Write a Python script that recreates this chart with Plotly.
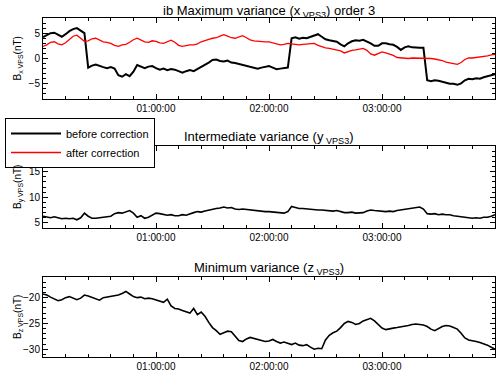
import pandas as pd
import plotly.graph_objects as go

# sample times in minutes after 00:00, every 2 minutes
MINUTES = list(range(0, 242, 2))

bx_before = [
    4.2, 4.6, 5.0, 5.1, 4.7, 4.3, 4.8, 5.4, 5.8, 6.0, 5.5, 5.0,
    -1.8, -1.4, -1.2, -1.5, -1.7, -1.9, -1.7, -2.0, -3.3, -3.6, -3.1, -3.5,
    -2.6, -1.3, -1.6, -1.9, -1.6, -1.5, -1.9, -2.2, -2.0, -2.3, -2.1, -2.2,
    -2.5, -2.8, -2.5, -2.3, -2.5, -2.1, -1.6, -1.3, -0.8, -0.3, -0.2, -0.5,
    -0.6, -0.4, -0.8, -0.9, -1.1, -1.2, -1.4, -1.7, -1.8, -2.0, -1.8, -1.7,
    -1.5, -1.8, -2.1, -2.0, -1.9, -1.8, 4.0, 4.2, 3.9, 4.1, 4.0, 4.3,
    4.6, 4.8, 4.3, 3.8, 3.6, 3.4, 3.3, 2.8, 2.4, 3.0, 3.4, 3.6,
    3.5, 3.7, 3.4, 3.0, 2.5, 2.5, 3.0, 3.0, 2.8, 2.7, 2.3, 1.7,
    2.2, 2.4, 2.2, 2.1, 2.1, 2.1, -4.3, -4.5, -4.3, -4.4, -4.6, -4.8,
    -5.0, -5.0, -5.2, -4.9, -4.3, -4.0, -4.1, -3.9, -4.0, -3.7, -3.5, -3.2,
    -3.1,
]
bx_after = [
    2.4, 2.7, 3.2, 3.3, 2.9, 2.7, 3.1, 3.8, 4.4, 4.6, 4.0, 3.4,
    3.5, 3.9, 4.0, 3.7, 3.3, 3.2, 3.0, 2.6, 2.4, 2.7, 2.8, 3.2,
    3.7, 4.0, 3.6, 3.3, 3.2, 3.5, 3.4, 3.1, 3.0, 3.3, 3.6, 3.2,
    2.6, 2.4, 2.6, 2.7, 2.7, 2.9, 3.3, 3.6, 3.8, 4.0, 4.1, 4.4,
    4.7, 4.4, 4.1, 4.0, 4.3, 4.5, 4.1, 3.7, 3.5, 3.4, 3.3, 3.3,
    3.3, 3.1, 2.9, 2.7, 2.8, 3.0, 2.9, 2.8, 2.7, 2.8, 2.9, 3.0,
    3.0, 2.6, 2.3, 2.1, 2.0, 1.8, 1.6, 1.5, 1.1, 1.4, 1.6, 1.7,
    1.9, 2.0, 1.6, 0.9, 0.65, 1.0, 1.3, 1.1, 0.9, 0.6, 0.2, 0.1,
    0.1, 0.0, 0.1, 0.1, 0.0, 0.1, 0.1, 0.0, -0.1, -0.2, -0.4, -0.7,
    -0.9, -1.0, -1.15, -0.8, -0.2, 0.1, 0.1, 0.2, 0.3, 0.3, 0.5, 0.7,
    0.8,
]
by_values = [
    6.3, 6.1, 6.0, 6.2, 6.0, 5.8, 5.9, 5.8, 5.9, 5.6, 6.0, 6.9,
    6.3, 5.9, 5.9, 6.0, 6.0, 6.1, 6.3, 6.8, 7.0, 6.9, 7.1, 7.4,
    6.9, 6.1, 6.4, 5.9, 6.1, 6.5, 6.9, 6.8, 6.6, 6.5, 6.6, 6.4,
    6.4, 6.6, 6.5, 6.8, 7.0, 7.2, 7.1, 7.3, 7.5, 7.6, 7.8, 7.9,
    8.1, 7.9, 8.0, 7.7, 7.6, 7.7, 7.6, 7.5, 7.4, 7.3, 7.2, 7.2,
    7.2, 7.1, 7.0, 6.9, 6.9, 7.2, 8.2, 8.0, 7.8, 7.8, 7.7, 7.7,
    7.6, 7.5, 7.5, 7.4, 7.4, 7.3, 7.4, 7.2, 7.0, 7.0, 7.1, 6.9,
    6.9, 7.0, 7.3, 7.5, 7.4, 7.3, 7.2, 7.2, 7.3, 7.2, 7.4, 7.5,
    7.6, 7.7, 7.8, 7.9, 8.1, 7.7, 6.8, 6.7, 6.8, 6.6, 6.7, 6.6,
    6.6, 6.4, 6.3, 6.2, 6.0, 5.9, 5.9, 6.0, 5.9, 6.1, 6.1, 6.3,
    6.6,
]
bz_values = [
    -19.3, -19.5, -19.9, -20.3, -20.6, -20.4, -20.0, -19.8, -20.1, -20.4, -20.1, -19.5,
    -19.7, -20.0, -20.3, -20.5, -20.0, -19.9, -19.8, -19.6, -19.5, -19.2, -18.8, -19.3,
    -19.8, -20.0, -19.9, -20.2, -20.1, -20.2, -20.4, -20.6, -20.9, -20.3, -21.6, -22.1,
    -22.2, -22.5, -22.7, -23.0, -22.1, -23.3, -22.8, -23.6, -24.8, -25.8, -26.4, -27.1,
    -26.8, -26.5, -26.6, -27.4, -28.3, -28.5, -28.0, -27.7, -27.9, -28.1, -28.3, -28.5,
    -28.4, -28.1, -28.5, -28.8, -28.6, -28.9, -29.1, -28.8, -29.2, -29.3, -29.1, -29.6,
    -30.0, -29.8, -29.9, -28.2, -27.3, -26.8, -26.5, -25.8, -25.0, -24.6, -24.8, -25.2,
    -25.0, -24.5, -24.2, -24.0, -24.5, -25.2, -25.9, -26.2, -26.0, -25.9, -25.8, -25.7,
    -25.6, -25.4, -25.2, -25.1, -25.2, -25.3, -25.6, -26.1, -26.4, -26.0, -25.6, -25.4,
    -25.5, -25.8, -26.1, -26.9, -27.8, -28.2, -28.3, -28.5, -28.7, -28.9, -29.2, -29.6,
    -30.0,
]

panel_titles = [
    "ib Maximum variance (x<sub> VPS3</sub>) order 3",
    "Intermediate variance (y<sub> VPS3</sub>)",
    "Minimum variance (z<sub> VPS3</sub>)",
]
y_labels = [
    "B<sub>x VPS</sub>(nT)",
    "B<sub>y VPS</sub>(nT)",
    "B<sub>z VPS</sub>(nT)",
]
time_ticks = ["01:00:00", "02:00:00", "03:00:00"]

day = pd.Timestamp("2000-01-01")
times = [day + pd.Timedelta(minutes=m) for m in MINUTES]
tick_times = [day + pd.Timedelta(hours=h) for h in (1, 2, 3)]

W, H = 500, 374
FONT = "Liberation Sans, Arial, sans-serif"
# panel frames in pixels (top, bottom) and title gap above each frame
frames = [(18, 99), (146, 228), (277, 357)]
title_gaps = [7, 9, 9]
x_left, x_right = 43, 495

fig = go.Figure()
fig.add_trace(go.Scatter(x=times, y=bx_before, mode="lines", name="before correction",
                         line=dict(color="black", width=2), xaxis="x", yaxis="y"))
fig.add_trace(go.Scatter(x=times, y=bx_after, mode="lines", name="after correction",
                         line=dict(color="red", width=1.3), xaxis="x", yaxis="y"))
fig.add_trace(go.Scatter(x=times, y=by_values, mode="lines", showlegend=False,
                         line=dict(color="black", width=1.6), xaxis="x2", yaxis="y2"))
fig.add_trace(go.Scatter(x=times, y=bz_values, mode="lines", showlegend=False,
                         line=dict(color="black", width=1.6), xaxis="x3", yaxis="y3"))

y_ranges = [[-8, 8], [4, 20], [-31.5, -16]]
y_ticks = [[-5, 0, 5], [5, 10, 15], [-30, -25, -20]]

axis_common = dict(showline=True, linecolor="black", linewidth=1, mirror="allticks",
                   ticks="inside", ticklen=5, tickcolor="black", showgrid=False,
                   zeroline=False, tickfont=dict(family=FONT, size=10, color="black"))

layout = dict(
    width=W, height=H, margin=dict(l=0, r=0, t=0, b=0),
    plot_bgcolor="white", paper_bgcolor="white",
    font=dict(family=FONT, color="black"),
    legend=dict(x=5 / W, y=1 - 118 / H, xanchor="left", yanchor="top",
                bordercolor="black", borderwidth=1, bgcolor="white",
                font=dict(family=FONT, size=11), itemwidth=50,
                tracegroupgap=0),
)
annotations = []
for i, (top, bottom) in enumerate(frames):
    sfx = "" if i == 0 else str(i + 1)
    layout["xaxis" + sfx] = dict(
        axis_common, domain=[x_left / W, x_right / W], anchor="y" + sfx,
        type="date", range=[day, day + pd.Timedelta(hours=4)],
        tickmode="array", tickvals=tick_times, ticktext=time_ticks,
        minor=dict(ticks="inside", ticklen=3, tickcolor="black",
                   dtick=12 * 60 * 1000, tick0=day),
    )
    layout["yaxis" + sfx] = dict(
        axis_common, domain=[1 - bottom / H, 1 - top / H], anchor="x" + sfx,
        range=y_ranges[i], tickmode="array", tickvals=y_ticks[i],
        minor=dict(ticks="inside", ticklen=3, tickcolor="black", dtick=1),
    )
    annotations.append(dict(
        text=panel_titles[i], xref="paper", yref="paper",
        x=(x_left + x_right) / 2 / W, y=1 - (top - title_gaps[i]) / H,
        xanchor="center", yanchor="middle", showarrow=False,
        font=dict(family=FONT, size=13),
    ))
    annotations.append(dict(
        text=y_labels[i], xref="paper", yref="paper",
        x=18 / W, y=1 - (top + bottom) / 2 / H, textangle=-90,
        xanchor="center", yanchor="middle", showarrow=False,
        font=dict(family=FONT, size=10),
    ))
layout["annotations"] = annotations
fig.update_layout(**layout)

# drop the browser's default page margin so the figure sits at the window corner
fig.write_html("out.html", config={"displayModeBar": False},
               post_script="document.body.style.margin='0';")
